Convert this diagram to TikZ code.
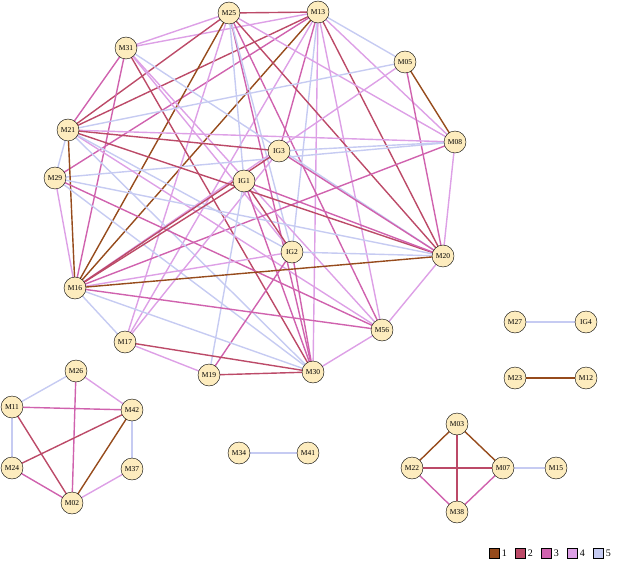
\documentclass[tikz,border=0pt]{standalone}
\usepackage{fontspec}
\setmainfont{Liberation Serif}
\begin{document}
\begin{tikzpicture}[x=1pt,y=-1pt]
\definecolor{cA}{HTML}{964B1C}
\definecolor{cB}{HTML}{BC4A68}
\definecolor{cC}{HTML}{D062AE}
\definecolor{cD}{HTML}{DDA0E6}
\definecolor{cE}{HTML}{C6CBF2}
\definecolor{cN}{HTML}{FDECBE}
\tikzset{vert/.style={circle,draw,fill=cN,inner sep=0pt,minimum size=22pt,font=\fontsize{7.5}{7.5}\selectfont},
e1/.style={cA,line width=1.4pt},e2/.style={cB,line width=1.4pt},e3/.style={cC,line width=1.4pt},e4/.style={cD,line width=1.4pt},e5/.style={cE,line width=1.4pt},
lg/.style={draw=black,line width=0.3pt,minimum size=10pt,inner sep=0pt}}
\useasboundingbox (0,0) rectangle (624,567);
\foreach \n/\x/\y in {M25/229/13,M13/318/12,M31/126/48,M05/405/62,M21/68/130,M08/455/142,IG3/279/151,M29/55/178,IG1/244/181,IG2/292/252,M20/443/256,M16/75/288,M56/382/330,M17/125/342,M19/209/375,M30/313/372,M27/515/322,IG4/586/322,M23/515/378,M12/586/378,M26/76/371,M11/12/407,M42/132/410,M24/12/468,M37/132/469,M02/72/503,M34/239/453,M41/308/453,M03/457/424,M22/412/468,M07/503/468,M15/556/468,M38/457/512}
  \coordinate (\n) at (\x,\y);
\begin{scope}
\foreach \a/\b/\s in {M13/M25/e2,M13/M31/e4,M13/M21/e2,M13/M16/e1,M13/M29/e3,M13/IG3/e3,M13/M05/e5,M13/M08/e4,M13/M20/e2,M13/M56/e4,M13/M30/e4,M13/IG2/e5,M13/M17/e4,
M25/M31/e4,M25/M21/e2,M25/M16/e1,M25/M08/e4,M25/M20/e2,M25/M56/e3,M25/M30/e3,M25/IG2/e5,M25/IG1/e5,M25/M17/e4,
M31/M21/e3,M31/M16/e3,M31/M30/e2,M31/M56/e4,M31/M20/e5,M31/IG2/e4,
M05/M08/e1,M05/M20/e3,M05/M21/e5,M05/M16/e4,
M08/M21/e4,M08/M16/e3,M08/M20/e4,M08/M29/e5,M08/IG3/e5,
M21/M29/e5,M21/M16/e1,M21/M20/e2,M21/IG3/e2,M21/M56/e4,M21/M30/e5,M21/IG2/e5,
M29/M16/e4,M29/M20/e5,M29/M56/e3,M29/M30/e5,
IG3/M16/e2,IG3/M20/e3,IG3/M17/e4,
IG1/M16/e2,IG1/M20/e3,IG1/IG2/e2,IG1/M30/e3,IG1/M19/e5,
IG2/M16/e4,IG2/M19/e3,IG2/M30/e3,IG2/M20/e5,
M20/M16/e1,M20/M56/e4,M16/M56/e3,M16/M17/e5,M16/M30/e5,
M17/M30/e2,M17/M19/e4,M19/M30/e2,M56/M30/e4,
M27/IG4/e5,M23/M12/e1,M34/M41/e5,
M03/M22/e1,M03/M07/e1,M03/M38/e2,M22/M07/e2,M22/M38/e3,M38/M07/e3,M07/M15/e5,
M26/M11/e5,M26/M42/e4,M26/M02/e3,M11/M42/e3,M11/M24/e5,M11/M02/e2,M42/M24/e2,M42/M02/e1,M42/M37/e5,M24/M02/e3,M37/M02/e4}
  \draw[\s] (\a) -- (\b);
\end{scope}
\foreach \n in {M25,M13,M31,M05,M21,M08,IG3,M29,IG1,IG2,M20,M16,M56,M17,M19,M30,M27,IG4,M23,M12,M26,M11,M42,M24,M37,M02,M34,M41,M03,M22,M07,M15,M38}
  \node[vert] (n\n) at (\n) {\n};
\foreach \i/\c/\x in {1/cA/494,2/cB/520,3/cC/546,4/cD/572,5/cE/598}{
  \node[lg,fill=\c] (l\i) at (\x,553) {};
  \node[anchor=west,inner sep=0pt,font=\fontsize{10}{10}\selectfont] (t\i) at ([xshift=2.5pt]l\i.east) {\i};
}
\end{tikzpicture}
\end{document}
